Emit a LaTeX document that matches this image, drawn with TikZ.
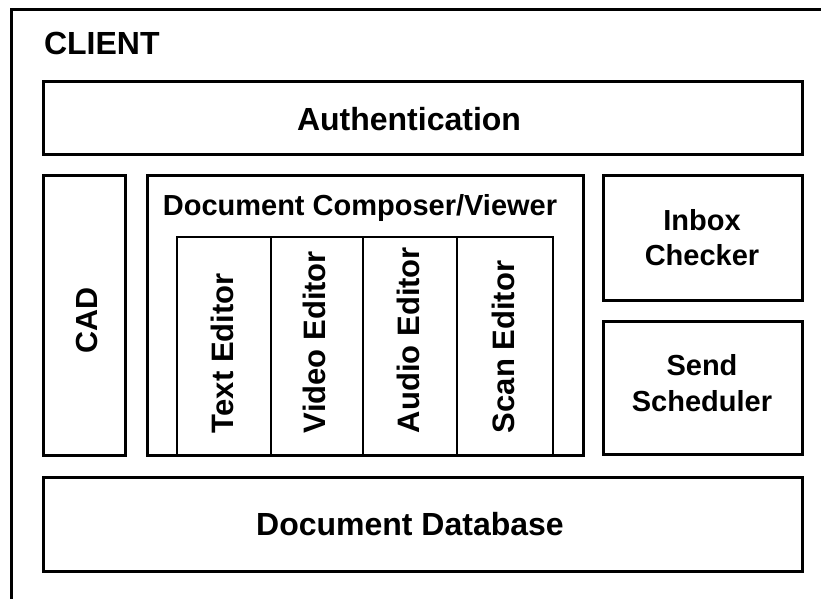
\documentclass[tikz,border=0pt]{standalone}
\usepackage{fontspec}
\setmainfont{Liberation Sans}
\begin{document}
\begin{tikzpicture}[x=1pt,y=-1pt,
  box/.style={draw=black,line width=3pt,inner sep=0pt,outer sep=0pt,fill=white},
  colbox/.style={draw=black,line width=1.6pt,inner sep=0pt,outer sep=0pt,
    minimum height=218pt},
  lbl/.style={inner sep=0pt,outer sep=0pt,text=black},
  big/.style={lbl,font=\bfseries\fontsize{32}{38}\selectfont},
  mid/.style={lbl,font=\bfseries\fontsize{29}{35}\selectfont},
  vert/.style={lbl,rotate=90,font=\bfseries\fontsize{31}{37}\selectfont}]
\useasboundingbox (0,0) rectangle (821,599);
\clip (0,0) rectangle (821,599);
\fill[white] (0,0) rectangle (821,599);

% client frame (runs off the right and bottom edges)
\node[box,minimum width=830pt,minimum height=590pt] (client) at (426,305) {};
\node[big,anchor=base west] (clientlbl) at (44,55) {CLIENT};

% authentication bar
\node[box,minimum width=759pt,minimum height=72pt] (auth) at (422.5,118) {};
\node[big,anchor=base] (authlbl) at (409,130) {Authentication};

% CAD column
\node[box,minimum width=82pt,minimum height=280pt] (cad) at (84,315) {};
\node[lbl,rotate=90,anchor=base,font=\bfseries\fontsize{30.5}{36}\selectfont]
  (cadlbl) at (97,320) {CAD};

% document composer / viewer with its editors
\node[box,minimum width=436pt,minimum height=280pt] (composer) at (365,315) {};
\node[mid,anchor=base] (composerlbl) at (360,215) {Document Composer/Viewer};

\node[colbox,minimum width=94pt] (textcol)  at (224,346) {};
\node[colbox,minimum width=92pt] (videocol) at (317,346) {};
\node[colbox,minimum width=94pt] (audiocol) at (410,346) {};
\node[colbox,minimum width=96pt] (scancol)  at (505,346) {};
\draw[line width=3pt] (composer.south west) -- (composer.south east);

\node[vert,anchor=base west] (textlbl)  at (233,433) {Text Editor};
\node[vert,anchor=base west] (videolbl) at (325,433) {Video Editor};
\node[vert,anchor=base west] (audiolbl) at (419,433) {Audio Editor};
\node[vert,anchor=base west] (scanlbl)  at (514,433) {Scan Editor};

% inbox checker and send scheduler
\node[box,minimum width=199pt,minimum height=125pt] (inbox) at (702.5,237.5) {};
\node[mid,anchor=base] (inboxa) at (702,230) {Inbox};
\node[mid,anchor=base] (inboxb) at (702,265) {Checker};

\node[box,minimum width=199pt,minimum height=133pt] (send) at (702.5,388) {};
\node[mid,anchor=base] (senda) at (702,375) {Send};
\node[mid,anchor=base] (sendb) at (702,411) {Scheduler};

% document database bar
\node[box,minimum width=759pt,minimum height=94pt] (db) at (422.5,524) {};
\node[big,anchor=base] (dblbl) at (410,535) {Document Database};
\end{tikzpicture}
\end{document}
